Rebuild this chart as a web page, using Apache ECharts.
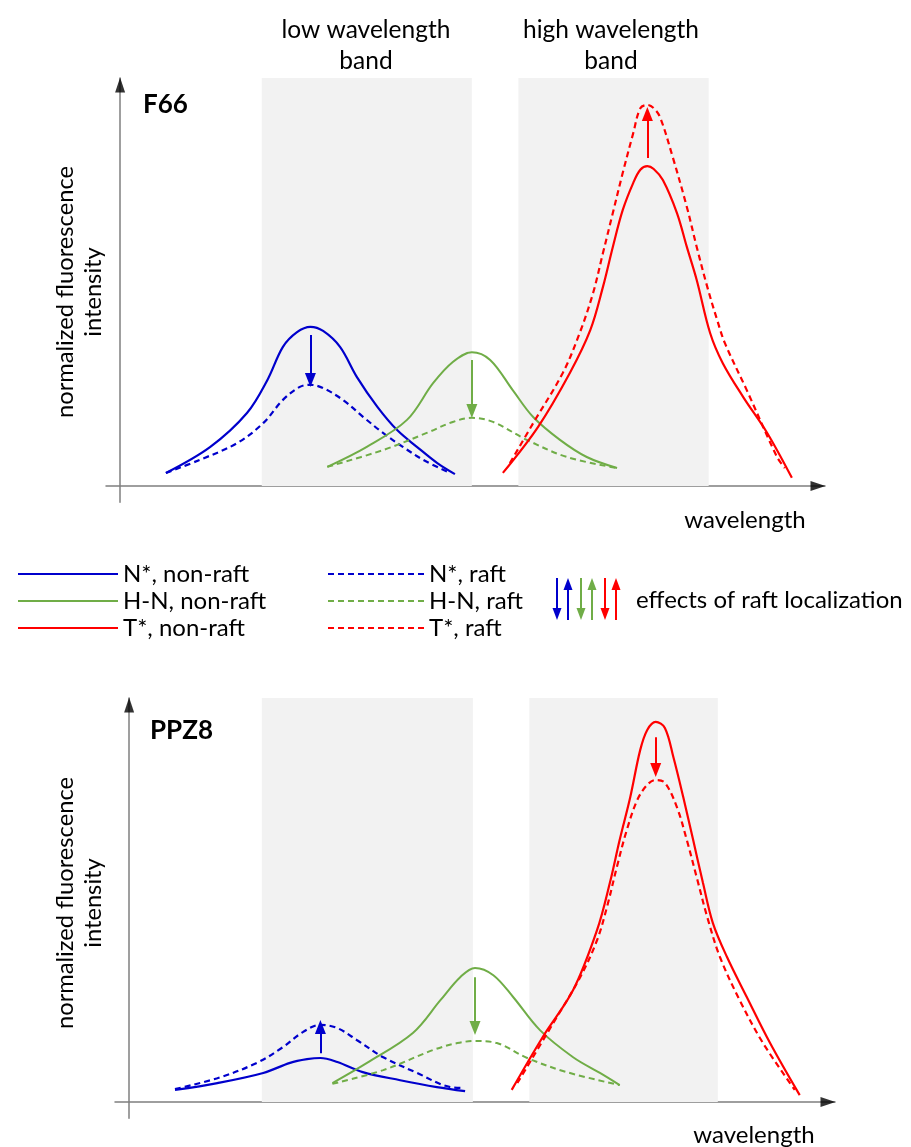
<!DOCTYPE html>
<html>
<head>
<meta charset="utf-8">
<script src="https://cdn.jsdelivr.net/npm/echarts@6/dist/echarts.min.js"></script>
<style>
html,body{margin:0;padding:0;background:#fff;}
#chart{width:911px;height:1147px;}
</style>
</head>
<body>
<div id="chart"></div>
<script>
// ---------- DATA (arbitrary units: wavelength 0-100, intensity 0-100) ----------
// Panel F66
const F66_N_nonraft = [[6.5,3.2],[12.8,9.6],[18.0,17.9],[20.9,26.0],[23.1,34.1],[25.1,37.7],[27.0,39.0],[28.8,38.0],[31.2,34.1],[33.6,26.7],[36.5,19.4],[39.3,13.7],[42.1,9.6],[45.0,5.6],[47.5,2.9]];
const F66_N_raft    = [[6.5,3.2],[11.3,6.4],[16.6,10.5],[20.3,15.4],[23.1,21.1],[25.5,24.3],[27.0,24.8],[28.8,24.0],[31.6,21.1],[34.5,16.9],[37.3,13.0],[40.1,9.6],[43.0,6.4],[46.8,3.2]];
const F66_H_nonraft = [[29.4,4.7],[35.0,9.6],[40.7,16.2],[44.4,25.2],[47.2,30.4],[49.9,32.8],[52.5,30.9],[55.7,23.5],[58.6,16.9],[62.4,11.3],[66.2,7.1],[70.5,4.4]];
const F66_H_raft    = [[29.4,4.7],[37.3,8.8],[43.5,13.0],[47.2,15.7],[49.9,16.7],[52.9,15.7],[57.7,11.3],[63.4,7.1],[70.5,4.4]];
const F66_T_nonraft = [[54.3,3.2],[59.3,14.5],[63.8,27.7],[66.7,38.2],[68.5,48.8],[69.9,58.6],[71.3,67.6],[72.8,74.3],[73.8,77.5],[74.8,78.4],[75.7,77.7],[77.0,75.0],[79.0,66.9],[80.4,58.6],[81.8,50.5],[83.7,37.5],[85.5,30.1],[88.4,21.8],[91.8,13.0],[95.3,2.0]];
const F66_T_raft    = [[55.3,5.6],[58.6,15.4],[62.8,27.7],[65.2,37.5],[67.1,47.3],[68.5,57.1],[69.9,66.9],[71.3,76.7],[72.8,86.5],[73.8,92.6],[74.8,93.4],[75.7,92.6],[76.6,90.4],[78.4,80.6],[80.4,68.4],[81.8,58.6],[83.3,48.8],[84.7,40.7],[85.8,35.0],[88.9,23.5],[93.2,7.1],[94.3,4.4]];
// raft-localization arrows F66: [wavelength, from, to]
const F66_arrows = {N:[27.0,37.0,26.0], H:[49.9,30.9,18.4], T:[74.8,80.4,91.2]};
// bands F66 [start, end]
const F66_bands = [[20.1,49.9],[56.5,83.5]];

// Panel PPZ8
const PPZ8_N_nonraft = [[6.5,3.0],[12.5,4.7],[19.0,7.2],[22.8,9.7],[25.2,10.6],[27.1,10.9],[29.5,9.9],[33.1,7.4],[38.4,5.4],[43.6,3.7],[47.6,2.7]];
const PPZ8_N_raft    = [[6.5,3.2],[12.5,5.9],[18.1,9.7],[21.8,13.6],[24.6,17.3],[27.1,19.1],[29.5,18.3],[32.3,15.3],[36.0,11.1],[40.8,7.2],[45.5,3.7],[47.3,3.5]];
const PPZ8_H_nonraft = [[28.8,4.7],[33.7,9.7],[40.2,17.1],[44.1,25.2],[46.9,30.9],[49.0,33.2],[51.6,31.4],[54.4,26.0],[58.2,17.8],[62.9,11.1],[66.7,7.2],[69.5,4.2]];
const PPZ8_H_raft    = [[28.8,4.5],[36.0,7.9],[43.1,12.9],[46.5,14.6],[49.0,15.1],[52.1,14.6],[56.4,10.9],[62.0,7.4],[69.5,4.2]];
const PPZ8_T_nonraft = [[54.2,3.0],[58.6,16.1],[62.9,27.7],[66.3,42.6],[68.1,54.2],[69.5,64.9],[71.0,75.5],[72.4,87.1],[73.4,92.1],[74.6,94.1],[75.9,92.6],[77.1,85.4],[78.5,75.5],[79.9,64.9],[81.3,54.2],[82.7,44.3],[84.7,35.9],[87.5,26.0],[90.8,14.6],[95.0,1.7]];
const PPZ8_T_raft    = [[55.0,4.7],[60.1,19.6],[63.9,30.9],[66.3,40.1],[67.7,48.3],[69.1,58.2],[70.5,67.3],[72.0,74.8],[73.4,78.5],[74.6,79.7],[75.9,79.0],[77.6,73.0],[79.0,64.9],[80.5,55.0],[81.9,45.8],[83.7,35.9],[86.5,25.2],[89.8,14.6],[94.3,3.0]];
const PPZ8_arrows = {N:[27.1,12.1,18.6], H:[49.0,30.9,18.3], T:[74.6,90.3,82.2]};
const PPZ8_bands = [[18.8,48.7],[56.7,83.4]];

const NAMES = {
  N_nonraft:'N*, non-raft', H_nonraft:'H-N, non-raft', T_nonraft:'T*, non-raft',
  N_raft:'N*, raft', H_raft:'H-N, raft', T_raft:'T*, raft'
};
const COLORS = {N:'#0000CC', H:'#70AD47', T:'#FF0000'};
const FONT = 'Lato, "Open Sans", sans-serif';

// ---------- BUILD ----------
function panelSeries(gi, d, arrows, bands){
  const out = [];
  const keys = ['N','H','T'];
  keys.forEach((k, i) => {
    const solid = {
      name: NAMES[k+'_nonraft'], type:'line', xAxisIndex:gi, yAxisIndex:gi,
      data: d[k+'_nonraft'], smooth:0.35, symbol:'none', z:3,
      lineStyle:{color:COLORS[k], width: k==='H'?2:2.2, type:'solid'},
      itemStyle:{color:COLORS[k]},
      markLine:{
        silent:true, symbol:['none','triangle'], symbolSize:[11,14],
        label:{show:false}, animation:false,
        lineStyle:{color:COLORS[k], width:2, type:'solid'},
        emphasis:{disabled:true},
        data:[[{coord:[arrows[k][0], arrows[k][1]]},{coord:[arrows[k][0], arrows[k][2]]}]]
      }
    };
    if (i === 0) {
      solid.markArea = {
        silent:true, itemStyle:{color:'#F2F2F2'},
        data: bands.map(b => [{coord:[b[0],0]},{coord:[b[1],100]}])
      };
    }
    out.push(solid);
    out.push({
      name: NAMES[k+'_raft'], type:'line', xAxisIndex:gi, yAxisIndex:gi,
      data: d[k+'_raft'], smooth:0.35, symbol:'none', z:3,
      lineStyle:{color:COLORS[k], width: k==='H'?2:2.2, type:[6,4]},
      itemStyle:{color:COLORS[k]}
    });
  });
  // axis arrowheads
  out.push({
    type:'scatter', xAxisIndex:gi, yAxisIndex:gi, silent:true, clip:false, z:5,
    data:[{value:[0,100], symbolRotate:0, symbolOffset:[0,7]},
          {value:[100,0], symbolRotate:-90, symbolOffset:[-7,0]}],
    symbol:'triangle', symbolSize:[10,15], itemStyle:{color:'#000'}
  });
  return out;
}

const F66 = {N_nonraft:F66_N_nonraft, N_raft:F66_N_raft, H_nonraft:F66_H_nonraft, H_raft:F66_H_raft, T_nonraft:F66_T_nonraft, T_raft:F66_T_raft};
const PPZ8 = {N_nonraft:PPZ8_N_nonraft, N_raft:PPZ8_N_raft, H_nonraft:PPZ8_H_nonraft, H_raft:PPZ8_H_raft, T_nonraft:PPZ8_T_nonraft, T_raft:PPZ8_T_raft};

function xAx(gi){ return {type:'value', gridIndex:gi, min:-2, max:100, axisLine:{onZero:true, lineStyle:{color:'#7F7F7F', width:1.5}}, axisTick:{show:false}, axisLabel:{show:false}, splitLine:{show:false}}; }
function yAx(gi){ return {type:'value', gridIndex:gi, min:-4, max:100, axisLine:{onZero:true, lineStyle:{color:'#7F7F7F', width:1.5}}, axisTick:{show:false}, axisLabel:{show:false}, splitLine:{show:false}}; }

function txt(x, y, text, opts){
  opts = opts || {};
  return {
    type:'text', x:x, y:y, rotation:opts.rotation||0, silent:true, z:10,
    style:{text:text, fill:'#000', font:(opts.weight||'normal')+' '+(opts.size||24)+'px '+FONT,
      align:opts.align||'center', verticalAlign:'middle',
      textAlign:opts.align||'center', textVerticalAlign:'middle', lineHeight:opts.lineHeight||30}
  };
}
function vArrow(x, y1, y2, color){
  const dir = y2 > y1 ? 1 : -1;
  const hl = 12, hw = 4.5;
  return [
    {type:'line', silent:true, z:10, shape:{x1:x, y1:y1, x2:x, y2:y2 - dir*hl}, style:{stroke:color, lineWidth:2}},
    {type:'polygon', silent:true, z:10, shape:{points:[[x-hw, y2-dir*hl],[x+hw, y2-dir*hl],[x, y2]]}, style:{fill:color}}
  ];
}

const graphics = [
  txt(366, 30, 'low wavelength', {size:24.5}), txt(366, 61, 'band', {size:24.5}),
  txt(611, 30, 'high wavelength', {size:24.5}), txt(611, 61, 'band', {size:24.5}),
  txt(143, 105, 'F66', {align:'left', weight:'bold', size:26}),
  txt(150, 731, 'PPZ8', {align:'left', weight:'bold', size:26}),
  txt(79, 292, 'normalized fluorescence\nintensity', {rotation:Math.PI/2, lineHeight:28, size:23.7}),
  txt(79, 903, 'normalized fluorescence\nintensity', {rotation:Math.PI/2, lineHeight:28, size:23.7}),
  txt(745, 520, 'wavelength'),
  txt(754, 1135, 'wavelength'),
  txt(636, 600, 'effects of raft localization', {align:'left'})
].concat(
  vArrow(557, 578, 620, COLORS.N), vArrow(568, 620, 578, COLORS.N),
  vArrow(581, 578, 620, COLORS.H), vArrow(592, 620, 578, COLORS.H),
  vArrow(605, 578, 620, COLORS.T), vArrow(616, 620, 578, COLORS.T)
);

const legendCommon = {
  orient:'vertical', itemHeight:14, itemGap:3, selectedMode:false,
  itemStyle:{opacity:0, borderWidth:0},
  textStyle:{fontSize:24, fontFamily:FONT, color:'#000', lineHeight:20}
};

const option = {
  animation:false,
  backgroundColor:'#fff',
  grid:[
    {left:106, top:78, width:719, height:424.3},
    {left:115, top:698, width:720, height:420.2}
  ],
  xAxis:[xAx(0), xAx(1)],
  yAxis:[yAx(0), yAx(1)],
  legend:[
    Object.assign({left:12, top:557, itemWidth:100, data:[NAMES.N_nonraft, NAMES.H_nonraft, NAMES.T_nonraft]}, legendCommon),
    Object.assign({left:322, top:557, itemWidth:96, data:[NAMES.N_raft, NAMES.H_raft, NAMES.T_raft]}, legendCommon)
  ],
  series: panelSeries(0, F66, F66_arrows, F66_bands).concat(panelSeries(1, PPZ8, PPZ8_arrows, PPZ8_bands)),
  graphic: graphics
};

const chart = echarts.init(document.getElementById('chart'), null, {renderer:'canvas'});
chart.setOption(option);
</script>
</body>
</html>
